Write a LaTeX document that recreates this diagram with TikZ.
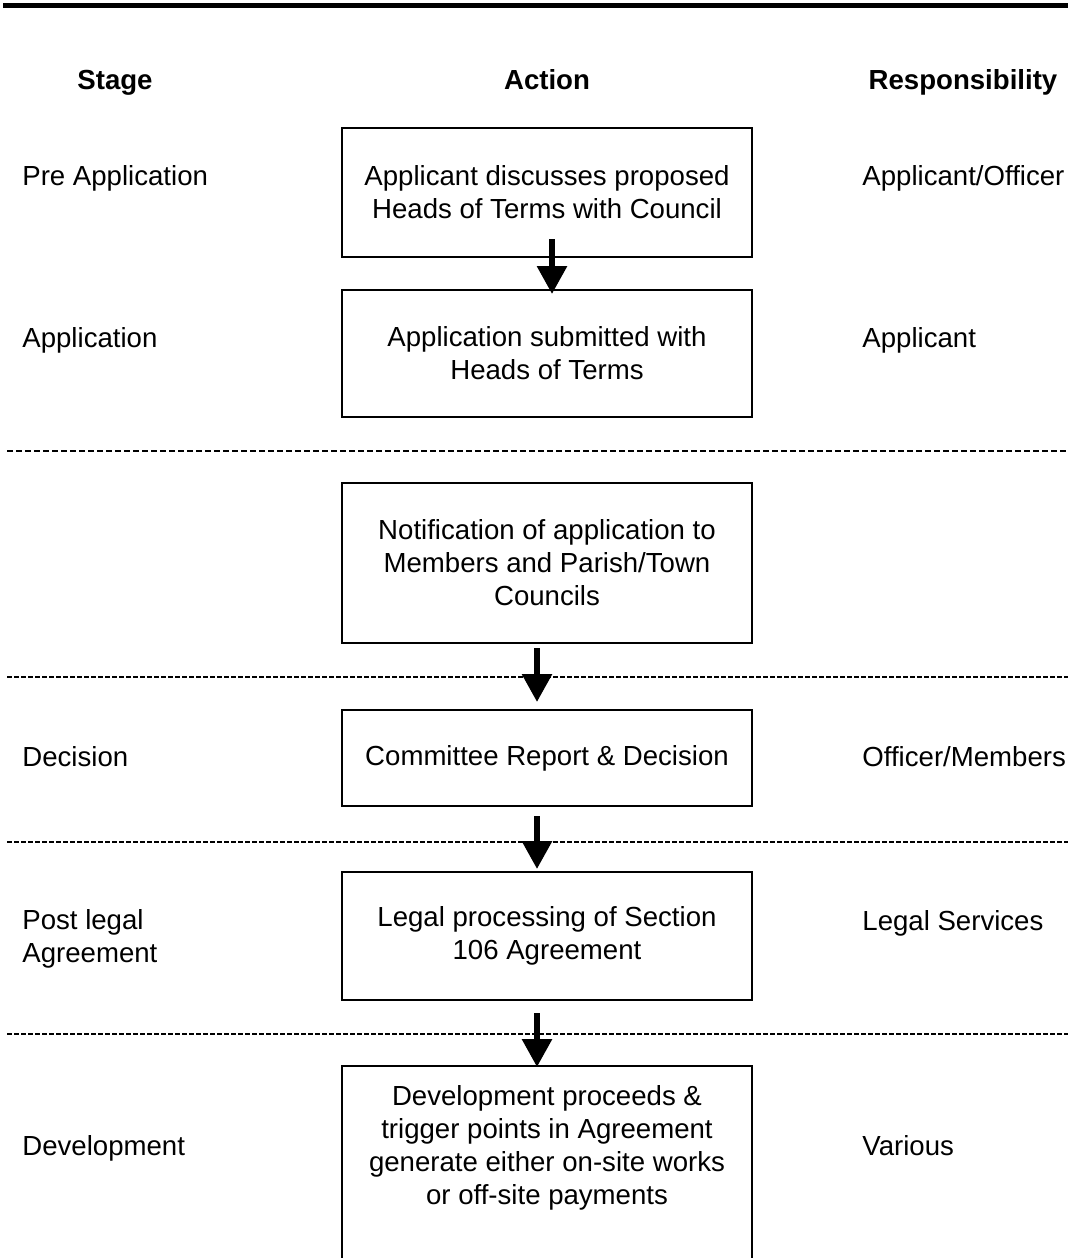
\documentclass[tikz,border=0pt]{standalone}
\usepackage{fontspec}
\setmainfont{Liberation Sans}
\usetikzlibrary{arrows.meta}
\begin{document}
\begin{tikzpicture}[x=0.5pt,y=-0.5pt,
  every node/.style={font=\fontsize{13.8}{16.5}\selectfont, inner sep=0pt},
  box/.style={draw, line width=1pt, minimum width=205pt, align=center},
  hdr/.style={font=\fontsize{13.8}{16.5}\selectfont\bfseries, anchor=mid},
  lbl/.style={anchor=mid west},
  lbl2/.style={anchor=west, align=left},
  flow/.style={line width=3pt, -{Triangle[width=14.5pt,length=14pt]}},
  sepA/.style={line width=1pt, dash pattern=on 3pt off 1.5pt},
  sepB/.style={line width=0.6pt, dash pattern=on 2.5pt off 1pt}]
\useasboundingbox (0,0) rectangle (1068,1258);
\clip (0,0) rectangle (1068,1258);

% top rule
\draw[line width=2.5pt] (3,5) -- (1068,5);

% headers
\node[hdr] (hs) at (115,84) {Stage};
\node[hdr] (ha) at (547,84) {Action};
\node[hdr] (hr) at (963,84) {Responsibility};

% boxes
\node[box, minimum height=64.5pt] (b1) at (547,192.5) {Applicant discusses proposed\\Heads of Terms with Council};
\node[box, minimum height=63.5pt] (b2) at (547,353.5) {Application submitted with\\Heads of Terms};
\node[box, minimum height=80pt] (b3) at (547,563) {Notification of application to\\Members and Parish/Town\\Councils};
\node[box, minimum height=48pt] (b4) at (547,758) {Committee Report \& Decision};
\node[box, minimum height=64pt] (b5) at (547,936) {Legal processing of Section\\106 Agreement};
\node[box, minimum height=135pt, anchor=north] (b6) at (547,1065) {};
\node[align=center] (t6) at (547,1148) {Development proceeds \&\\trigger points in Agreement\\generate either on-site works\\or off-site payments};

% stage labels
\node[lbl] (s1) at (22,180) {Pre Application};
\node[lbl] (s2) at (22,342) {Application};
\node[lbl] (s4) at (22,761) {Decision};
\node[lbl2] (s5) at (22,938.5) {Post legal\\Agreement};
\node[lbl] (s6) at (22,1150) {Development};

% responsibility labels
\node[lbl] (r1) at (862,180) {Applicant/Officer};
\node[lbl] (r2) at (862,342) {Applicant};
\node[lbl] (r4) at (862,761) {Officer/Members};
\node[lbl] (r5) at (862,925) {Legal Services};
\node[lbl] (r6) at (862,1150) {Various};

% separators
\draw[sepA] (7,451) -- (1068,451);
\draw[sepB] (7,677) -- (1068,677);
\draw[sepB] (7,842) -- (1068,842);
\draw[sepB] (7,1034) -- (1068,1034);

% arrows
\draw[flow] ([xshift=2.5pt,yshift=9.5pt]b1.south) -- ([xshift=2.5pt,yshift=-2.5pt]b2.north);
\draw[flow] ([xshift=-5pt,yshift=-2pt]b3.south) -- ([xshift=-5pt,yshift=3.5pt]b4.north);
\draw[flow] ([xshift=-5pt,yshift=-4.5pt]b4.south) -- ([xshift=-5pt,yshift=1pt]b5.north);
\draw[flow] ([xshift=-5pt,yshift=-6pt]b5.south) -- ([xshift=-5pt,yshift=-1pt]b6.north);
\end{tikzpicture}
\end{document}
